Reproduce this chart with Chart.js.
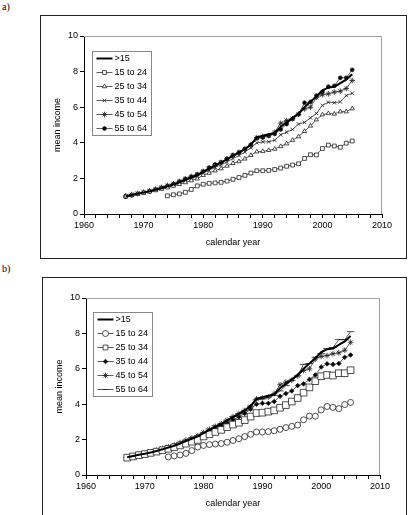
<!DOCTYPE html>
<html>
<head>
<meta charset="utf-8">
<script src="https://cdn.jsdelivr.net/npm/chart.js@4/dist/chart.umd.min.js"></script>
<style>
  body { margin: 0; width: 409px; height: 515px; overflow: hidden; background: #fff; position: relative; }
  .panel-label { position: absolute; left: 2px; font: 10px "Liberation Serif", "Times New Roman", serif; color: #000; }
  .box { position: absolute; border: 1px solid #222; box-sizing: border-box; }
  canvas { position: absolute; left: 0; }
</style>
</head>
<body>
<div class="panel-label" style="top:1px">a)</div>
<div class="panel-label" style="top:263px">b)</div>
<div class="box" style="left:40px; top:15px; width:367px; height:244px"></div>
<div class="box" style="left:42px; top:277px; width:365px; height:260px"></div>
<canvas id="chart-a" style="top:0px"></canvas>
<canvas id="chart-b" style="top:260px"></canvas>
<script>
// Dados
const years = [1967, 1968, 1969, 1970, 1971, 1972, 1973, 1974, 1975, 1976, 1977, 1978, 1979,
  1980, 1981, 1982, 1983, 1984, 1985, 1986, 1987, 1988, 1989,
  1990, 1991, 1992, 1993, 1994, 1995, 1996, 1997, 1998, 1999,
  2000, 2001, 2002, 2003, 2004, 2005];

const seriesNames = ['>15', '15 to 24', '25 to 34', '35 to 44', '45 to 54', '55 to 64'];

const over15 = [1.0, 1.07, 1.14, 1.2, 1.27, 1.36, 1.45, 1.55, 1.65, 1.78, 1.92, 2.05, 2.18,
  2.36, 2.55, 2.72, 2.88, 3.08, 3.27, 3.45, 3.65, 3.9, 4.3,
  4.4, 4.48, 4.55, 4.9, 5.15, 5.4, 5.65, 6.0, 6.3, 6.6,
  6.95, 7.1, 7.15, 7.35, 7.55, 7.85];

const age15to24 = [null, null, null, null, null, null, null, 1.02, 1.08, 1.13, 1.22, 1.38, 1.58,
  1.67, 1.72, 1.75, 1.78, 1.85, 1.95, 2.05, 2.17, 2.3, 2.43,
  2.43, 2.45, 2.5, 2.58, 2.68, 2.75, 2.82, 3.12, 3.33, 3.32,
  3.68, 3.87, 3.82, 3.75, 3.98, 4.1];

const age25to34 = [0.98, 1.05, 1.12, 1.18, 1.25, 1.32, 1.4, 1.48, 1.57, 1.67, 1.77, 1.88, 1.98,
  2.18, 2.3, 2.43, 2.55, 2.7, 2.85, 2.95, 3.1, 3.3, 3.5,
  3.52, 3.58, 3.65, 3.8, 3.95, 4.15, 4.35, 4.65, 4.95, 5.3,
  5.58, 5.65, 5.62, 5.75, 5.75, 5.92];

const age35to44 = [1.0, 1.07, 1.14, 1.2, 1.27, 1.35, 1.44, 1.53, 1.63, 1.75, 1.88, 2.0, 2.12,
  2.3, 2.47, 2.62, 2.77, 2.93, 3.12, 3.28, 3.48, 3.72, 4.0,
  4.05, 4.05, 4.15, 4.45, 4.6, 4.75, 5.05, 5.15, 5.4, 5.65,
  6.1, 6.28, 6.25, 6.3, 6.65, 6.78];

const age45to54 = [1.02, 1.09, 1.16, 1.23, 1.3, 1.4, 1.5, 1.6, 1.7, 1.83, 1.97, 2.1, 2.22,
  2.4, 2.58, 2.75, 2.9, 3.1, 3.3, 3.47, 3.65, 3.85, 4.3,
  4.35, 4.4, 4.6, 5.1, 5.25, 5.35, 5.6, 5.9, 6.0, 6.55,
  6.7, 6.75, 6.85, 6.9, 7.05, 7.5];

const age55to64 = [0.97, 1.05, 1.13, 1.2, 1.27, 1.37, 1.47, 1.58, 1.68, 1.82, 1.97, 2.1, 2.22,
  2.38, 2.6, 2.78, 2.9, 3.1, 3.3, 3.45, 3.65, 3.9, 4.25,
  4.3, 4.4, 4.5, 4.75, 5.05, 5.35, 5.6, 6.25, 6.3, 6.65,
  6.85, 7.15, 7.2, 7.65, 7.65, 8.1];

const allSeries = [over15, age15to24, age25to34, age35to44, age45to54, age55to64];

const xTicks = [1960, 1970, 1980, 1990, 2000, 2010];
const yTicks = [0, 2, 4, 6, 8, 10];

// Marcadores de cada painel
const markersA = [
  { style: false, radius: 0, fill: '#000' },
  { style: 'rect', radius: 2.7, fill: '#fff' },
  { style: 'triangle', radius: 2.5, fill: '#fff' },
  { style: 'crossRot', radius: 2.5, fill: '#fff' },
  { style: 'star', radius: 2.8, fill: '#fff' },
  { style: 'circle', radius: 1.9, fill: '#000' }
];
const markersB = [
  { style: false, radius: 0, fill: '#000' },
  { style: 'circle', radius: 3.0, fill: '#fff' },
  { style: 'rect', radius: 4.7, fill: '#fff' },
  { style: 'rectRot', radius: 2.3, fill: '#000' },
  { style: 'star', radius: 2.8, fill: '#fff' },
  { style: 'line', radius: 3.8, fill: '#000' }
];

const FONT = '"Liberation Sans", Arial, sans-serif';

function toPoints(values) {
  const pts = [];
  values.forEach((v, i) => {
    if (v !== null) pts.push({ x: years[i], y: v });
  });
  return pts;
}

function buildDatasets(markers) {
  return allSeries.map((values, i) => {
    const m = markers[i];
    const thick = i === 0;
    return {
      label: seriesNames[i],
      data: toPoints(values),
      borderColor: thick ? '#000' : '#333',
      borderWidth: thick ? 2 : 0.8,
      pointStyle: m.style,
      pointRadius: m.radius,
      pointBackgroundColor: m.fill,
      pointBorderColor: '#222',
      pointBorderWidth: 0.8,
      tension: 0,
      spanGaps: false
    };
  });
}

// Borda cinza do plot area (topo e direita)
const plotFrame = {
  id: 'plotFrame',
  beforeDatasetsDraw(chart) {
    const { ctx, chartArea: a } = chart;
    ctx.save();
    ctx.strokeStyle = '#a0a0a0';
    ctx.lineWidth = 1;
    ctx.beginPath();
    ctx.moveTo(a.left, a.top + 0.5);
    ctx.lineTo(a.right - 0.5, a.top + 0.5);
    ctx.lineTo(a.right - 0.5, a.bottom);
    ctx.stroke();
    ctx.restore();
  }
};

// Legenda dentro do gráfico
const boxLegend = {
  id: 'boxLegend',
  afterDraw(chart, args, opts) {
    const { ctx, chartArea: a } = chart;
    const left = Math.round(a.left + opts.dx) + 0.5;
    const top = Math.round(a.top + opts.dy) + 0.5;
    const w = 59, h = 84;
    ctx.save();
    ctx.fillStyle = '#fff';
    ctx.fillRect(left, top, w, h);
    ctx.strokeStyle = '#888';
    ctx.lineWidth = 1;
    ctx.strokeRect(left, top, w, h);
    ctx.font = '9px ' + FONT;
    ctx.textBaseline = 'middle';
    chart.data.datasets.forEach((ds, i) => {
      const y = top + 7 + i * 14;
      ctx.strokeStyle = ds.borderColor;
      ctx.lineWidth = ds.borderWidth;
      ctx.beginPath();
      ctx.moveTo(left + 4, y);
      ctx.lineTo(left + 20, y);
      ctx.stroke();
      if (ds.pointStyle) {
        ctx.fillStyle = ds.pointBackgroundColor;
        ctx.strokeStyle = ds.pointBorderColor;
        ctx.lineWidth = ds.pointBorderWidth;
        Chart.helpers.drawPoint(ctx, {
          pointStyle: ds.pointStyle,
          radius: Math.min(ds.pointRadius, 3.4),
          rotation: 0,
          borderWidth: ds.pointBorderWidth
        }, left + 12, y);
      }
      ctx.fillStyle = '#000';
      ctx.fillText(ds.label, left + 22, y + 0.5);
    });
    ctx.restore();
  }
};

function makeChart(id, height, markers, padding, legendPos) {
  const canvas = document.getElementById(id);
  canvas.width = 409;
  canvas.height = height;
  canvas.style.width = '409px';
  canvas.style.height = height + 'px';

  return new Chart(canvas.getContext('2d'), {
    type: 'line',
    data: { datasets: buildDatasets(markers) },
    plugins: [plotFrame, boxLegend],
    options: {
      responsive: false,
      animation: false,
      layout: { padding: padding },
      plugins: {
        legend: { display: false },
        tooltip: { enabled: false },
        boxLegend: legendPos
      },
      scales: {
        x: {
          type: 'linear',
          min: xTicks[0],
          max: xTicks[xTicks.length - 1],
          afterFit: s => { s.height = 34; },
          afterBuildTicks: s => {
            const t = [];
            for (let v = xTicks[0]; v <= xTicks[xTicks.length - 1]; v += 2) t.push({ value: v });
            s.ticks = t;
          },
          ticks: {
            autoSkip: false,
            maxRotation: 0,
            padding: 2,
            color: '#000',
            font: { family: FONT, size: 9 },
            callback: v => (xTicks.includes(v) ? String(v) : '')
          },
          grid: { drawOnChartArea: false, tickLength: 4, color: '#000', lineWidth: 1 },
          border: { color: '#000', width: 1 },
          title: {
            display: true,
            text: 'calendar year',
            color: '#000',
            font: { family: FONT, size: 9 },
            padding: 0
          }
        },
        y: {
          min: yTicks[0],
          max: yTicks[yTicks.length - 1],
          afterFit: s => { s.width = 32; },
          afterBuildTicks: s => { s.ticks = yTicks.map(v => ({ value: v })); },
          ticks: {
            padding: 2,
            color: '#000',
            font: { family: FONT, size: 9 }
          },
          grid: { drawOnChartArea: false, tickLength: 4, color: '#000', lineWidth: 1 },
          border: { color: '#000', width: 1 },
          title: {
            display: true,
            text: 'mean income',
            color: '#000',
            font: { family: FONT, size: 9 },
            padding: 0
          }
        }
      }
    }
  });
}

makeChart('chart-a', 260, markersA,
  { left: 52, right: 27, top: 36, bottom: 12 }, { dx: 8, dy: 15 });
makeChart('chart-b', 255, markersB,
  { left: 54, right: 29, top: 38, bottom: 6 }, { dx: 7, dy: 14 });
</script>
</body>
</html>
